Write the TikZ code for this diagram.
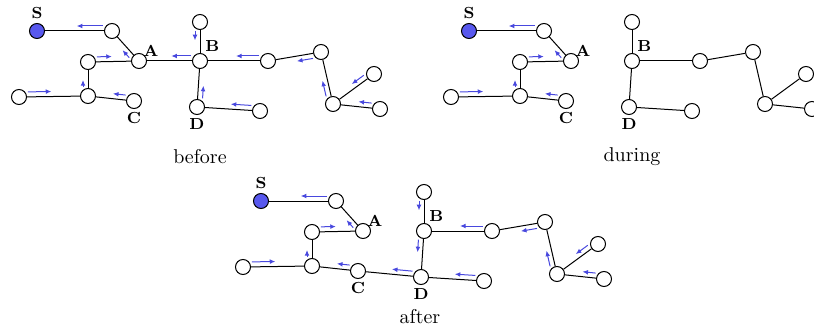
\documentclass[tikz,border=0pt]{standalone}
\usetikzlibrary{calc, arrows.meta}

\definecolor{srcblue}{RGB}{88,88,238}
\definecolor{flowblue}{RGB}{72,72,222}

\tikzset{
  vtx/.style={circle, draw, line width=0.5pt, fill=white, minimum size=7.5pt, inner sep=0pt},
  src/.style={vtx, fill=srcblue},
  lbl/.style={font=\footnotesize\bfseries, inner sep=0pt},
  link/.style={line width=0.5pt},
  flowarr/.style={draw=flowblue, line width=0.5pt, -{Latex[length=2.8pt,width=2.4pt]}},
}

% the same vertices in every panel, #1 = name prefix
\newcommand{\treenodes}[1]{%
  \node[src, label={[lbl,label distance=2pt]above:S}] (#1S) at (37,31) {};
  \node[vtx] (#1s1) at (112,31) {};
  \node[vtx, label={[lbl,label distance=-1pt]45:A}] (#1A) at (139,61) {};
  \node[vtx] (#1a1) at (88,62) {};
  \node[vtx] (#1a2) at (88,96) {};
  \node[vtx] (#1a3) at (19,97) {};
  \node[vtx, label={[lbl,label distance=1.5pt]below:C}] (#1C) at (134,101) {};
  \node[vtx, label={[lbl,label distance=1pt]60:B}] (#1B) at (200,61) {};
  \node[vtx] (#1b1) at (200,22) {};
  \node[vtx, label={[lbl,label distance=1.5pt]below:D}] (#1D) at (197,107) {};
  \node[vtx] (#1d1) at (260,111) {};
  \node[vtx] (#1b2) at (268,61) {};
  \node[vtx] (#1b3) at (321,52) {};
  \node[vtx] (#1b4) at (333,104) {};
  \node[vtx] (#1b5) at (374,74) {};
  \node[vtx] (#1b6) at (380,109) {};
}

% parent pointer: from child #1 towards parent #2, on side #3 (90 or -90)
\newcommand{\flow}[3]{%
  \draw[flowarr] ($(#1)!4.5pt!(#2)!2.5pt!#3:(#2)$) -- ($(#1)!0.47!(#2)!2.5pt!#3:(#2)$);
}

\begin{document}
\begin{tikzpicture}[x=0.5pt, y=-0.5pt]
    \useasboundingbox (0,0) rectangle (814,326);

    % before
    \begin{scope}
        \treenodes{bf}
        \foreach \u/\v in {S/s1, s1/A, A/a1, a1/a2, a2/a3, a2/C, A/B, B/b1, B/D, D/d1, B/b2, b2/b3, b3/b4, b4/b5, b4/b6}
            \draw[link] (bf\u) -- (bf\v);
        \flow{bfs1}{bfS}{-90}
        \flow{bfA}{bfs1}{90}
        \flow{bfa1}{bfA}{90}
        \flow{bfa2}{bfa1}{90}
        \flow{bfa3}{bfa2}{90}
        \flow{bfC}{bfa2}{-90}
        \flow{bfB}{bfA}{-90}
        \flow{bfb1}{bfB}{-90}
        \flow{bfD}{bfB}{-90}
        \flow{bfd1}{bfD}{-90}
        \flow{bfb2}{bfB}{-90}
        \flow{bfb3}{bfb2}{90}
        \flow{bfb4}{bfb3}{90}
        \flow{bfb5}{bfb4}{-90}
        \flow{bfb6}{bfb4}{-90}
        \node (capbf) at (200,157) {before};
    \end{scope}

    % during
    \begin{scope}[shift={(432,0)}]
        \treenodes{du}
        \foreach \u/\v in {S/s1, s1/A, A/a1, a1/a2, a2/a3, a2/C, B/b1, B/D, D/d1, B/b2, b2/b3, b3/b4, b4/b5, b4/b6}
            \draw[link] (du\u) -- (du\v);
        \flow{dus1}{duS}{-90}
        \flow{duA}{dus1}{90}
        \flow{dua1}{duA}{90}
        \flow{dua2}{dua1}{90}
        \flow{dua3}{dua2}{90}
        \flow{duC}{dua2}{-90}
        \node (capdu) at (200,157) {during};
    \end{scope}

    % after
    \begin{scope}[shift={(224,170)}]
        \treenodes{af}
        \foreach \u/\v in {S/s1, s1/A, A/a1, a1/a2, a2/a3, a2/C, C/D, B/b1, B/D, D/d1, B/b2, b2/b3, b3/b4, b4/b5, b4/b6}
            \draw[link] (af\u) -- (af\v);
        \flow{afs1}{afS}{-90}
        \flow{afA}{afs1}{90}
        \flow{afa1}{afA}{90}
        \flow{afa2}{afa1}{90}
        \flow{afa3}{afa2}{90}
        \flow{afC}{afa2}{-90}
        \flow{afD}{afC}{-90}
        \flow{afB}{afD}{-90}
        \flow{afb1}{afB}{-90}
        \flow{afd1}{afD}{-90}
        \flow{afb2}{afB}{-90}
        \flow{afb3}{afb2}{90}
        \flow{afb4}{afb3}{90}
        \flow{afb5}{afb4}{-90}
        \flow{afb6}{afb4}{-90}
        \node (capaf) at (196,147) {after};
    \end{scope}
\end{tikzpicture}
\end{document}
